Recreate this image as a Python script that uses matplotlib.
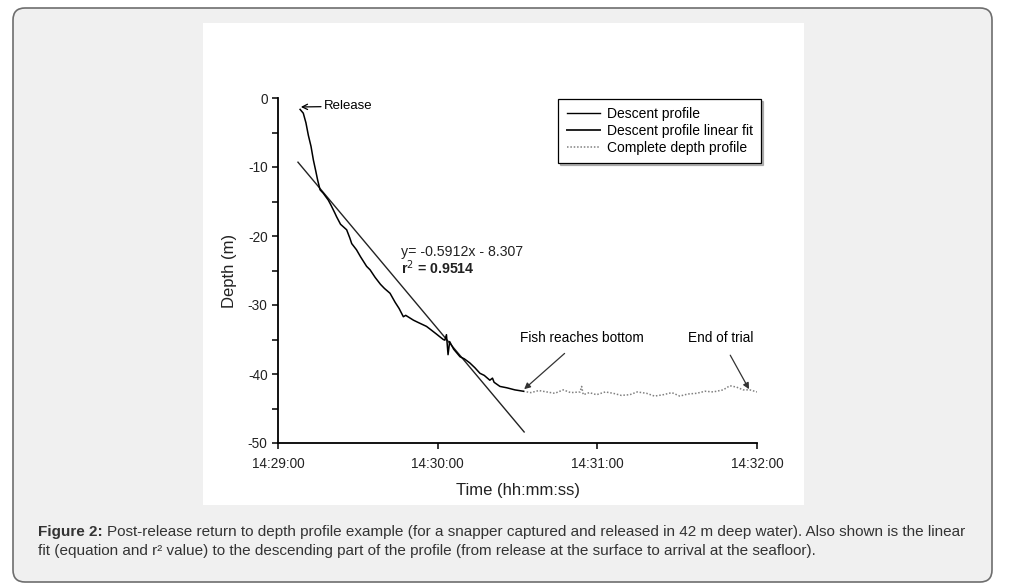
import matplotlib
matplotlib.use("Agg")
import matplotlib.pyplot as plt
import matplotlib.patches as mpatches
import matplotlib.transforms as mtransforms
from matplotlib.lines import Line2D
from matplotlib.ticker import FixedLocator, MultipleLocator

plt.rcParams['font.family'] = ['Liberation Sans', 'DejaVu Sans']
plt.rcParams['axes.unicode_minus'] = False

# seconds after 14:29:00
descent_t = [8.3, 9.5, 10.5, 11.4, 12.4, 13.3, 14.2, 14.9, 15.8, 17.0, 18.9, 20.0,
             21.4, 22.0, 23.5, 25.8, 27.0, 27.7, 29.5, 31.0, 33.3, 34.6, 36.5, 38.5,
             40.0, 42.1, 44.0, 45.5, 47.1, 48.0, 50.9, 52.5, 55.8, 57.5, 59.5, 62.1,
             62.7, 63.3, 63.9, 64.5, 66.0, 68.4, 70.0, 72.1, 74.0, 75.9, 77.5, 79.6,
             80.6, 81.2, 83.4, 86.0, 89.0, 92.2]
descent_depth = [-1.65, -2.2, -3.6, -5.4, -7.0, -9.0, -10.6, -11.9, -13.3, -13.8, -14.8, -15.6,
                 -16.7, -17.2, -18.3, -19.1, -20.3, -21.1, -22.0, -23.0, -24.4, -24.9, -26.0, -27.0,
                 -27.6, -28.3, -29.6, -30.5, -31.7, -31.5, -32.2, -32.5, -33.1, -33.6, -34.2, -35.0,
                 -35.1, -34.3, -37.2, -35.3, -36.4, -37.5, -37.8, -38.4, -39.1, -39.9, -40.2, -40.9,
                 -40.6, -41.2, -41.8, -42.0, -42.3, -42.5]

fit_t = [7.5, 92.5]
fit_depth = [-9.3, -48.4]

complete_t = [92.2, 95.0, 98.0, 101.0, 104.0, 107.2, 110.0, 113.5, 114.1, 114.7, 117.0,
              119.7, 123.0, 126.0, 129.0, 132.2, 135.0, 138.5, 141.5, 144.8, 148.0, 151.0,
              154.0, 157.3, 160.5, 163.5, 167.3, 169.8, 172.3, 174.8, 177.3, 180.0]
complete_depth = [-42.5, -42.7, -42.4, -42.6, -42.8, -42.3, -42.7, -42.6, -41.8, -43.0, -42.7,
                  -43.0, -42.6, -42.8, -43.1, -43.0, -42.6, -42.8, -43.2, -43.0, -42.7, -43.2,
                  -42.9, -42.8, -42.5, -42.6, -42.3, -41.7, -41.9, -42.3, -42.3, -42.6]

xtick_pos = [0, 60, 120, 180]
xtick_labels = ['14:29:00', '14:30:00', '14:31:00', '14:32:00']
ytick_pos = [0, -10, -20, -30, -40, -50]

fig = plt.figure(figsize=(10.13, 5.87), dpi=100)
fig.patch.set_facecolor('white')

# outer rounded frame and white chart panel (pixel coordinates)
frame = mpatches.FancyBboxPatch((13, 587 - 582), 979, 574,
                                boxstyle='round,pad=0,rounding_size=12',
                                facecolor='#f0f0f0', edgecolor='#6e6e6e', linewidth=1.2,
                                transform=mtransforms.IdentityTransform(), zorder=-3)
fig.add_artist(frame)
panel = mpatches.Rectangle((203, 587 - 505), 601, 482, facecolor='white', edgecolor='none',
                           transform=mtransforms.IdentityTransform(), zorder=-2)
fig.add_artist(panel)

ax = fig.add_axes([278 / 1013, 1 - 443 / 587, (757 - 278) / 1013, (443 - 98) / 587])
ax.set_facecolor('none')

ax.plot(complete_t, complete_depth, color='#808080', linestyle=(0, (1, 1.2)), linewidth=1.1)
ax.plot(fit_t, fit_depth, color='#222222', linewidth=1.0)
ax.plot(descent_t, descent_depth, color='black', linewidth=1.1)

ax.set_xlim(0, 180)
ax.set_ylim(-50, 0)
ax.xaxis.set_major_locator(FixedLocator(xtick_pos))
ax.set_xticklabels(xtick_labels)
ax.yaxis.set_major_locator(FixedLocator(ytick_pos))
ax.yaxis.set_minor_locator(MultipleLocator(5))
ax.tick_params(axis='both', which='both', direction='out', length=4, width=1.1,
               labelsize=9.8, labelcolor='#222222')
ax.tick_params(axis='x', pad=6)

for side in ['top', 'right']:
    ax.spines[side].set_visible(False)
for side in ['left', 'bottom']:
    ax.spines[side].set_linewidth(1.3)

ax.set_xlabel('Time (hh:mm:ss)', fontsize=12, color='#222222', labelpad=9)
ax.set_ylabel('Depth (m)', fontsize=12, color='#222222', labelpad=8)

# annotations
ax.annotate('Release', xy=(8.6, -1.3), xytext=(17.2, -1.2), fontsize=9.5, va='center',
            arrowprops=dict(arrowstyle='->', color='black', lw=0.9, shrinkA=0, shrinkB=0))
ax.annotate('Fish reaches bottom', xy=(92.5, -42.2), xytext=(114.2, -34.8), fontsize=9.8,
            ha='center', va='center',
            arrowprops=dict(arrowstyle='-|>', color='#333333', lw=0.9, mutation_scale=9,
                            shrinkA=6, shrinkB=0))
ax.annotate('End of trial', xy=(177.0, -42.2), xytext=(166.4, -34.8), fontsize=9.8,
            ha='center', va='center',
            arrowprops=dict(arrowstyle='-|>', color='#333333', lw=0.9, mutation_scale=9,
                            shrinkA=6, shrinkB=0))
ax.text(46.4, -22.3, 'y= -0.5912x - 8.307', fontsize=10.2, va='center', color='#222222')
ax.text(46.4, -24.6, 'r$^2$ = 0.9514', fontsize=10.2, va='center', fontweight='bold',
        color='#222222')

handles = [Line2D([], [], color='black', linewidth=1.0),
           Line2D([], [], color='#222222', linewidth=1.4),
           Line2D([], [], color='#808080', linestyle=(0, (1, 1.2)), linewidth=1.1)]
labels = ['Descent profile', 'Descent profile linear fit', 'Complete depth profile']
leg = ax.legend(handles, labels, loc='upper left', bbox_to_anchor=(0.585, 0.998),
                borderaxespad=0, fontsize=10, frameon=True, fancybox=False,
                handlelength=2.4, handletextpad=0.5, labelspacing=0.2, borderpad=0.6,
                shadow={'ox': 1.5, 'oy': -1.5, 'color': '#777777'})
leg.get_frame().set_edgecolor('black')
leg.get_frame().set_linewidth(0.9)

# caption
cap_color = '#333333'
t1 = fig.text(38 / 1013, 1 - 532 / 587, 'Figure 2:', fontsize=11, fontweight='bold',
              color=cap_color, va='center')
renderer = fig.canvas.get_renderer()
bb = t1.get_window_extent(renderer=renderer)
fig.text((bb.x1 + 4) / 1013, 1 - 532 / 587,
         'Post-release return to depth profile example (for a snapper captured and released '
         'in 42 m deep water). Also shown is the linear',
         fontsize=11, color=cap_color, va='center')
fig.text(38 / 1013, 1 - 551 / 587,
         'fit (equation and r\u00b2 value) to the descending part of the profile (from release '
         'at the surface to arrival at the seafloor).',
         fontsize=11, color=cap_color, va='center')

fig.savefig('out.png', dpi=100)
